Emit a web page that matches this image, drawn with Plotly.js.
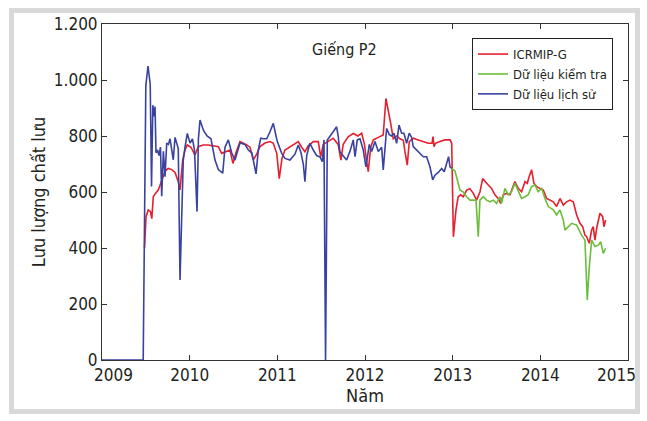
<!DOCTYPE html>
<html>
<head>
<meta charset="utf-8">
<script src="https://cdn.plot.ly/plotly-3.0.1.min.js"></script>
<style>
  html, body { margin: 0; padding: 0; background: #fff; }
  #wrap { position: relative; width: 647px; height: 421px; }
  #chart { position: absolute; left: 0; top: 0; width: 647px; height: 421px; }
  #frame { position: absolute; left: 9px; top: 8px; width: 631px; height: 406px;
           box-sizing: border-box; border: 5px solid #d9d9d9; pointer-events: none; }
</style>
</head>
<body>
<div id="wrap">
  <div id="chart"></div>
  <div id="frame"></div>
</div>
<script>
// Well P2 fluid rate: simulated (ICRMIP-G), validation data and history data
var modelYears = [2009.485,2009.502,2009.528,2009.553,2009.568,2009.585,2009.61,2009.642,2009.681,2009.719,2009.756,2009.795,2009.833,2009.87,2009.89,2009.92,2009.947,2009.973,2010.015,2010.061,2010.098,2010.155,2010.212,2010.289,2010.327,2010.365,2010.422,2010.46,2010.494,2010.528,2010.574,2010.642,2010.688,2010.726,2010.764,2010.802,2010.859,2010.916,2010.954,2010.993,2011.022,2011.053,2011.087,2011.144,2011.201,2011.239,2011.277,2011.315,2011.353,2011.41,2011.467,2011.494,2011.524,2011.578,2011.637,2011.694,2011.725,2011.751,2011.808,2011.866,2011.92,2011.962,2011.994,2012.019,2012.037,2012.065,2012.095,2012.152,2012.208,2012.239,2012.266,2012.293,2012.322,2012.361,2012.399,2012.437,2012.456,2012.482,2012.505,2012.55,2012.607,2012.665,2012.722,2012.764,2012.776,2012.787,2012.804,2012.855,2012.912,2012.97,2012.989,2013.008,2013.038,2013.063,2013.091,2013.121,2013.159,2013.197,2013.235,2013.273,2013.311,2013.342,2013.368,2013.406,2013.444,2013.482,2013.52,2013.547,2013.577,2013.615,2013.653,2013.71,2013.748,2013.786,2013.825,2013.851,2013.873,2013.901,2013.927,2013.958,2013.996,2014.034,2014.072,2014.11,2014.148,2014.186,2014.224,2014.262,2014.3,2014.338,2014.376,2014.414,2014.452,2014.483,2014.509,2014.528,2014.558,2014.585,2014.604,2014.623,2014.646,2014.68,2014.711,2014.726,2014.745];
var modelRate = [400,512,536,530,505,583,595,607,640,675,684,680,670,637,607,714,750,768,760,732,762,768,768,765,762,738,745,750,702,740,780,770,760,715,735,762,775,780,774,738,648,720,750,762,775,780,760,744,765,780,780,726,770,780,792,770,714,770,797,809,800,810,770,708,673,760,786,795,804,934,893,845,790,800,790,785,744,696,780,792,786,780,774,774,798,762,774,780,786,786,774,440,536,583,590,583,607,612,595,571,600,648,637,625,613,590,577,559,590,595,590,637,613,601,637,631,655,679,631,619,613,607,577,571,565,548,577,553,565,571,565,518,488,476,446,440,417,464,476,428,476,524,512,476,500];

var checkYears = [2012.989,2013.026,2013.063,2013.083,2013.121,2013.159,2013.197,2013.235,2013.266,2013.292,2013.311,2013.349,2013.387,2013.425,2013.463,2013.501,2013.539,2013.558,2013.596,2013.634,2013.672,2013.71,2013.748,2013.786,2013.825,2013.862,2013.9,2013.938,2013.976,2014.015,2014.053,2014.091,2014.148,2014.186,2014.224,2014.262,2014.281,2014.319,2014.357,2014.414,2014.471,2014.509,2014.535,2014.558,2014.585,2014.623,2014.661,2014.689,2014.718,2014.745];
var checkRate = [684,675,631,607,600,583,571,571,571,440,571,583,571,565,571,559,583,560,613,590,601,631,607,577,583,590,619,625,601,613,577,548,536,518,536,500,464,476,488,482,446,428,214,330,428,405,410,422,381,399];

var historyYears = [2009.0,2009.47,2009.50,2009.525,2009.55,2009.565,2009.58,2009.593,2009.605,2009.616,2009.633,2009.65,2009.667,2009.681,2009.70,2009.719,2009.738,2009.758,2009.776,2009.79,2009.813,2009.833,2009.852,2009.87,2009.89,2009.909,2009.927,2009.947,2009.973,2010.004,2010.032,2010.055,2010.084,2010.10,2010.118,2010.158,2010.198,2010.243,2010.289,2010.327,2010.377,2010.403,2010.441,2010.479,2010.517,2010.574,2010.631,2010.669,2010.708,2010.726,2010.757,2010.783,2010.81,2010.842,2010.879,2010.916,2010.954,2010.985,2011.0,2011.05,2011.087,2011.144,2011.201,2011.239,2011.27,2011.296,2011.315,2011.335,2011.372,2011.41,2011.449,2011.487,2011.513,2011.532,2011.55,2011.57,2011.605,2011.637,2011.676,2011.694,2011.713,2011.751,2011.79,2011.828,2011.866,2011.886,2011.912,2011.943,2011.98,2012.011,2012.049,2012.076,2012.114,2012.152,2012.19,2012.208,2012.228,2012.247,2012.277,2012.304,2012.33,2012.361,2012.388,2012.418,2012.444,2012.475,2012.505,2012.532,2012.55,2012.589,2012.627,2012.665,2012.703,2012.741,2012.772,2012.798,2012.836,2012.874,2012.904,2012.93,2012.953,2012.97,2012.989];
var historyRate = [0,0,980,1050,985,620,910,870,905,740,750,730,760,585,745,655,775,770,790,760,715,795,770,755,286,488,714,760,809,775,790,750,530,790,857,820,800,790,714,680,667,760,786,740,714,775,770,750,740,714,665,750,792,790,790,815,845,800,780,738,720,714,735,768,740,700,637,730,774,750,730,725,708,786,0,786,800,815,833,800,744,730,714,745,786,726,786,790,750,690,770,745,780,745,760,679,770,827,805,800,810,774,839,810,810,774,810,795,762,750,740,726,726,690,643,660,670,684,672,700,726,690,684];

var yearTicks = [2009, 2010, 2011, 2012, 2013, 2014, 2015];
var yearTickText = ['', '2010', '2011', '2012', '2013', '2014', ''];
var rateTicks = [0, 200, 400, 600, 800, 1000, 1200];
var rateTickText = ['0', '200', '400', '600', '800', '1.000', '1.200'];

var FONT = 'Liberation Sans Narrow, DejaVu Sans Condensed, Roboto Condensed, Arial Narrow, Roboto, sans-serif';
var INK = '#231f20';

var traces = [
  { x: modelYears, y: modelRate, name: 'ICRMIP-G', type: 'scatter', mode: 'lines',
    line: { color: '#e5202e', width: 1.6 } },
  { x: checkYears, y: checkRate, name: 'Dữ liệu kiểm tra', type: 'scatter', mode: 'lines',
    line: { color: '#6cbd3c', width: 1.6 } },
  { x: historyYears, y: historyRate, name: 'Dữ liệu lịch sử', type: 'scatter', mode: 'lines',
    line: { color: '#3a42a0', width: 1.6 } }
];

var layout = {
  width: 647, height: 421,
  margin: { l: 102, r: 19, t: 24, b: 61 },
  paper_bgcolor: '#ffffff', plot_bgcolor: '#ffffff',
  font: { family: FONT, color: INK, size: 16 },
  showlegend: true,
  legend: {
    x: 0.9715, y: 0.958, xanchor: 'right', yanchor: 'top',
    bgcolor: '#ffffff', bordercolor: '#222222', borderwidth: 1,
    font: { family: FONT, size: 13, color: INK },
    tracegroupgap: 0, itemwidth: 30
  },
  xaxis: {
    range: [2009, 2015], tickvals: yearTicks, ticktext: yearTickText,
    ticks: 'inside', ticklen: 5, tickcolor: '#333', mirror: 'ticks',
    showline: true, linecolor: '#333', linewidth: 1, showgrid: false, zeroline: false,
    tickfont: { family: FONT, size: 17, color: INK },
    title: { text: 'Năm', font: { family: FONT, size: 18, color: INK }, standoff: 2 }
  },
  yaxis: {
    range: [0, 1200], tickvals: rateTicks, ticktext: rateTickText,
    ticks: 'inside', ticklen: 5, tickcolor: '#333', mirror: 'ticks',
    showline: true, linecolor: '#333', linewidth: 1, showgrid: false, zeroline: false,
    tickfont: { family: FONT, size: 17, color: INK },
    title: { text: 'Lưu lượng chất lưu', font: { family: FONT, size: 18, color: INK }, standoff: 3 }
  },
  annotations: [
    { text: 'Giếng P2', xref: 'x', yref: 'y', x: 2011.77, y: 1110, showarrow: false,
      font: { family: FONT, size: 16, color: INK } },
    // end labels of the year axis sit inside the frame edges
    { text: '2009', xref: 'x', yref: 'paper', x: 2009, y: 0, yanchor: 'top', xanchor: 'center',
      xshift: 11, yshift: -3, showarrow: false, font: { family: FONT, size: 17, color: INK } },
    { text: '2015', xref: 'x', yref: 'paper', x: 2015, y: 0, yanchor: 'top', xanchor: 'center',
      xshift: -12, yshift: -3, showarrow: false, font: { family: FONT, size: 17, color: INK } }
  ]
};

Plotly.newPlot('chart', traces, layout, { staticPlot: true, displayModeBar: false });
</script>
</body>
</html>
